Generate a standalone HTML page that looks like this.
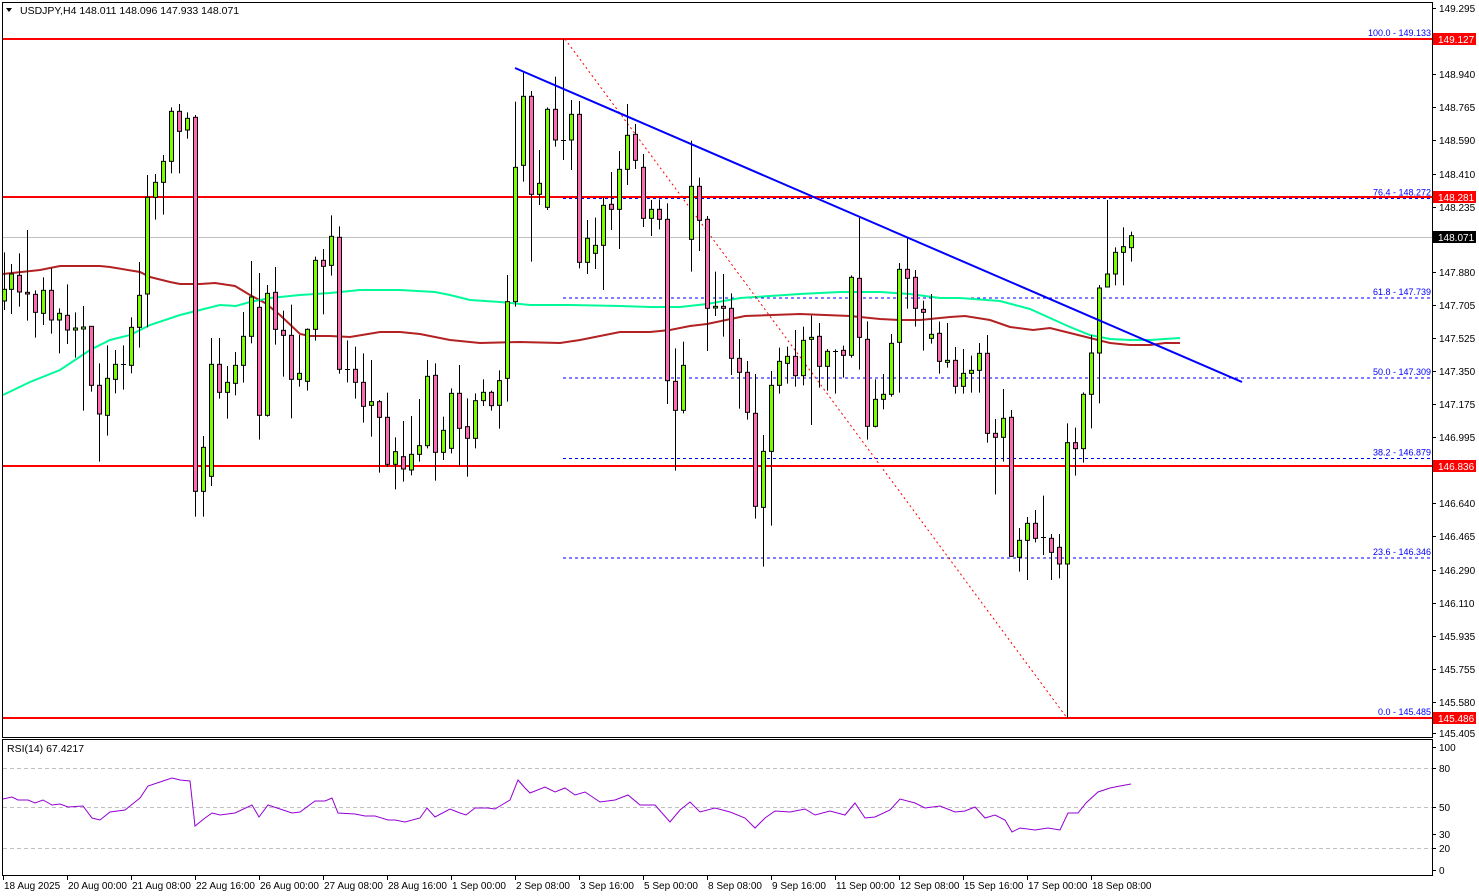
<!DOCTYPE html>
<html><head><meta charset="utf-8">
<style>
html,body{margin:0;padding:0;background:#fff;}
svg{display:block;font-family:"Liberation Sans",sans-serif;}
</style></head>
<body>
<svg id="s" width="1479" height="896" viewBox="0 0 1479 896" xmlns="http://www.w3.org/2000/svg">
<rect width="1479" height="896" fill="#fff"/>
<g id="bg"></g>
<g id="cd"></g>
<g id="fg"></g>
<text x="20" y="14" font-size="10.5" fill="#000">USDJPY,H4  148.011 148.096 147.933 148.071</text>
<path d="M6 8 L12 8 L9 12 Z" fill="#000"/>
<text x="7" y="752" font-size="10.5" fill="#000">RSI(14) 67.4217</text>
</svg>
<script>
const NS="http://www.w3.org/2000/svg";
function el(p,t,a,txt){const e=document.createElementNS(NS,t);for(const k in a)e.setAttribute(k,a[k]);if(txt!==undefined)e.textContent=txt;document.getElementById(p).appendChild(e);return e;}
const py=p=>8+(149.295-p)*186.4;
// frames
el('fg','rect',{x:2.5,y:2.5,width:1430,height:735,fill:'none',stroke:'#000','stroke-width':1});
el('fg','rect',{x:2.5,y:739.5,width:1430,height:136,fill:'none',stroke:'#000','stroke-width':1});
// axis labels
const al=[["149.295",8],["148.940",74],["148.765",107],["148.590",140],["148.410",174],["148.235",207],["147.880",272],["147.705",305],["147.525",338],["147.350",371],["147.175",404],["146.995",437],["146.640",503],["146.465",536],["146.290",570],["146.110",603],["145.935",636],["145.755",669],["145.580",702],["145.405",733]];
al.forEach(([t,y])=>{el('fg','line',{x1:1432,x2:1436,y1:y+0.5,y2:y+0.5,stroke:'#000'});el('fg','text',{x:1439,y:y+4,'font-size':10,fill:'#000'},t);});
[["100",747],["80",768],["50",807],["30",834],["20",848],["0",870]].forEach(([t,y])=>{el('fg','line',{x1:1432,x2:1436,y1:y+0.5,y2:y+0.5,stroke:'#000'});el('fg','text',{x:1439,y:y+4,'font-size':10,fill:'#000'},t);});
// rsi levels
[768,807,848].forEach(y=>el('bg','line',{x1:3,x2:1432,y1:y+0.5,y2:y+0.5,stroke:'#c0c0c0','stroke-dasharray':'4,3'}));
// time labels
const tl=[["18 Aug 2025",3],["20 Aug 00:00",67],["21 Aug 08:00",131],["22 Aug 16:00",195],["26 Aug 00:00",259],["27 Aug 08:00",323],["28 Aug 16:00",387],["1 Sep 00:00",451],["2 Sep 08:00",515],["3 Sep 16:00",579],["5 Sep 00:00",643],["8 Sep 08:00",707],["9 Sep 16:00",771],["11 Sep 00:00",835],["12 Sep 08:00",899],["15 Sep 16:00",963],["17 Sep 00:00",1027],["18 Sep 08:00",1091]];
tl.forEach(([t,x])=>{el('fg','line',{x1:x+0.5,x2:x+0.5,y1:876,y2:880,stroke:'#000'});el('fg','text',{x:x+1,y:889,'font-size':10,fill:'#000'},t);});
// grey price line
el('bg','line',{x1:3,x2:1432,y1:237.5,y2:237.5,stroke:'#c0c0c0'});
// fib
const fib=[["100.0 - 149.133",39],["76.4 - 148.272",198.5],["61.8 - 147.739",298],["50.0 - 147.309",378],["38.2 - 146.879",458.5],["23.6 - 146.346",558],["0.0 - 145.485",718]];
fib.forEach(([t,y],i)=>{if(i>0&&i<6)el('bg','line',{x1:563,x2:1432,y1:y,y2:y,stroke:'#0000ff','stroke-dasharray':'3,3'});el('fg','text',{x:1431,y:y-3,'font-size':9,fill:'#0000ff','text-anchor':'end'},t);});
// red lines
[39,197,466,718].forEach(y=>el('bg','line',{x1:3,x2:1432,y1:y,y2:y,stroke:'#ff0000','stroke-width':2}));
// tags
[["149.127",39,'#ff0000'],["148.281",197,'#ff0000'],["148.071",237,'#000'],["146.836",466,'#ff0000'],["145.486",718,'#ff0000']].forEach(([t,y,c])=>{el('fg','rect',{x:1433,y:y-6,width:43,height:12,fill:c});el('fg','text',{x:1438,y:y+4,'font-size':10,fill:'#fff'},t);});
// MAs
function pl(g,pts,st,w,extra){el(g,'polyline',Object.assign({points:pts.map(p=>p.join(',')).join(' '),fill:'none',stroke:st,'stroke-width':w},extra||{}));}
pl('bg',[[3,274],[12,273],[40,270],[60,266],[100,266],[110,267],[140,272],[150,277],[170,282],[180,284],[200,284],[215,283],[235,286],[250,295],[265,303],[280,315],[300,334],[310,336],[330,336],[350,337],[380,332],[400,332],[420,334],[450,340],[480,343],[520,342],[560,343],[580,340],[600,336],[620,332],[650,332],[670,330],[690,326],[707,324],[745,316],[800,314],[850,316],[880,319],[900,320],[920,320],[950,317],[965,316],[990,320],[1010,327],[1033,330],[1050,328],[1070,333],[1090,338],[1110,343],[1130,345],[1150,345],[1165,343],[1180,343]],'#b22222',2);
pl('bg',[[3,395],[30,382],[60,370],[90,350],[110,340],[130,335],[150,325],[180,315],[200,310],[220,305],[236,306],[250,302],[270,298],[300,295],[330,293],[360,290],[380,290],[400,290],[435,292],[450,295],[470,300],[500,302],[530,305],[570,305],[620,306],[650,307],[680,307],[707,304],[740,298],[770,296],[800,294],[840,292],[880,292],[910,294],[940,298],[960,298],[1000,301],[1030,309],[1050,318],[1070,327],[1090,335],[1110,339],[1130,340],[1150,340],[1165,339],[1180,338]],'#00fa9a',2);
// trend lines
el('fg','line',{x1:515,y1:68,x2:1242,y2:382,stroke:'#0000ff','stroke-width':2});
el('bg','line',{x1:565,y1:39,x2:1067,y2:718,stroke:'#ff0000','stroke-width':1,'stroke-dasharray':'2,3'});
// candles
const Z=[[0,90,[[12,633,598,487,660],[34,598,552,522,672],[58,556,606,490,650],[82,607,612,420,692],[106,613,667,601,743],[130,670,601,562,705],[154,601,690,535,731],[178,690,670,655,790],[202,676,720,583,762],[226,720,714,667,803],[250,717,711,648,962],[274,709,886,709,905],[298,886,972,820,1115],[322,976,865,766,1037],[346,868,823,780,910],[370,823,823,766,899],[394,826,712,682,850],[418,712,616,516,773],[442,612,322,255,712],[466,322,277,252,389],[490,277,214,195,374],[514,214,64,52,250],[538,64,124,42,250],[562,120,85,67,146],[586,82,1204,75,1280],[610,1204,1072,1038,1280],[634,1159,823,744,1188],[658,823,907,744,926],[682,907,877,828,986],[706,880,826,786,916],[730,826,739,666,878],[754,739,621,513,760],[778,652,976,549,1049],[802,976,610,585,980],[826,607,718,531,764],[850,721,736,662,860],[874,736,868,644,985],[898,868,850,735,890],[922,874,718,715,902],[946,718,511,500,752],[970,511,529,477,673],[994,526,439,376,557],[1018,442,838,409,851],[1042,838,838,751,877],[1066,838,877,770,926]]],
[350,50,[[40,997,1069,910,1118],[64,1066,1055,930,1160],[88,1055,1102,1050,1268],[112,1102,1243,1028,1250],[136,1243,1205,1162,1318],[160,1220,1257,1113,1295],[184,1260,1213,1098,1276],[208,1213,1187,1047,1235],[232,1187,979,930,1195],[256,976,1207,940,1292],[280,1207,1141,1100,1230],[304,1195,1030,1015,1210],[328,1030,1135,945,1250],[352,1130,1165,1045,1280],[376,1165,1052,1030,1195],[400,1052,1027,988,1068],[424,1027,1067,1022,1082],[448,1066,992,961,1136],[472,985,755,675,1055],[496,755,352,155,770],[520,346,139,68,395],[544,139,433,123,635],[568,433,400,300,465],[592,472,178,172,480],[616,178,270,80,290],[640,270,270,-33,330],[664,270,193,150,360],[688,193,637,153,655],[712,637,565,510,672],[736,610,586,503,657],[760,586,466,442,720],[784,463,478,366,540],[808,478,358,303,597],[832,358,256,162,405],[856,253,331,222,357],[880,352,505,312,531],[904,505,478,450,558],[928,478,508,448,538],[952,508,992,460,1062],[976,994,1081,895,1262],[1000,1081,946,875,1090],[1024,568,409,272,665],[1048,409,511,383,603],[1072,508,775,498,903]]],
[700,180,[[46,384,379,275,408],[70,379,385,282,470],[94,385,535,340,585],[118,535,577,477,686],[142,577,697,543,719],[166,700,979,582,1016],[190,982,814,765,1160],[214,814,616,573,1037],[238,616,544,503,641],[262,550,529,500,611],[286,529,587,450,620],[310,587,481,440,616],[334,478,472,407,735],[358,469,559,429,623],[382,559,514,507,632],[406,512,512,508,641],[430,511,526,497,593],[454,526,292,286,533],[478,295,472,113,569],[502,478,739,424,779],[526,739,658,598,742],[550,658,643,582,688],[574,643,490,462,650],[598,487,268,249,638],[622,268,295,172,386],[646,292,385,270,440],[670,388,397,362,512],[694,475,463,342,491],[718,460,544,425,581],[742,547,541,429,563],[766,541,619,501,641],[790,619,580,507,641],[814,580,571,527,638],[838,571,520,489,638],[862,520,760,465,788],[886,760,772,717,943],[910,772,715,627,845],[934,712,1129,690,1130],[958,1132,1081,1044,1175],[982,1081,1030,1011,1200],[1006,1030,1075,990,1087],[1030,1072,1072,947,1125],[1054,1075,1117,1062,1200]]],
[960,190,[[298,1072,1122,1032,1165],[322,1122,758,700,1584],[346,758,776,713,857],[370,776,613,607,818],[394,613,489,435,715],[418,489,294,285,640],[442,291,252,30,291],[466,252,187,172,286],[490,187,170,112,286],[514,173,137,125,215]]]];
Z.forEach(([ox,oy,arr])=>arr.forEach(([z,o,c,h,l])=>{
 const x=Math.round(ox+z/3)+0.5, O=oy+o/3, C=oy+c/3, H=oy+h/3, L=oy+l/3;
 el('cd','line',{x1:x,x2:x,y1:H,y2:L,stroke:'#000'});
 const t=Math.min(O,C), b=Math.max(O,C);
 if(b-t<1.5){el('cd','line',{x1:x-2.5,x2:x+2.5,y1:Math.round(t)+0.5,y2:Math.round(t)+0.5,stroke:'#000'});}
 else el('cd','rect',{x:x-2,y:t,width:4,height:b-t,fill:C<O?'#7cfc00':'#ff69b4',stroke:'#000','stroke-width':1});
}));
// RSI
pl('fg',[[3,799],[12,797],[18,800],[28,800],[35,803],[43,800],[52,805],[60,804],[68,807],[83,806],[92,818],[100,820],[110,812],[125,810],[140,798],[148,786],[160,782],[172,778],[180,780],[190,781],[195,826],[205,818],[212,813],[220,815],[235,813],[252,805],[259,817],[268,805],[280,809],[292,813],[300,812],[315,801],[325,801],[332,798],[338,813],[355,814],[365,816],[375,816],[388,820],[395,820],[405,822],[420,818],[427,808],[435,817],[450,809],[460,813],[466,815],[475,808],[488,808],[495,809],[500,806],[510,800],[518,780],[525,788],[530,793],[545,787],[555,792],[565,788],[575,795],[585,792],[600,802],[615,800],[628,795],[640,805],[655,805],[670,822],[680,810],[690,802],[700,812],[715,808],[730,812],[745,818],[755,828],[765,818],[775,811],[790,812],[805,809],[815,815],[830,811],[845,815],[855,803],[865,818],[875,817],[890,810],[900,799],[915,803],[925,808],[940,806],[955,812],[965,811],[975,807],[985,818],[995,815],[1005,820],[1012,832],[1020,828],[1035,830],[1048,828],[1060,830],[1068,813],[1078,813],[1086,803],[1098,792],[1110,788],[1120,786],[1131,784]],'#9400d3',1);
</script>
</body></html>
